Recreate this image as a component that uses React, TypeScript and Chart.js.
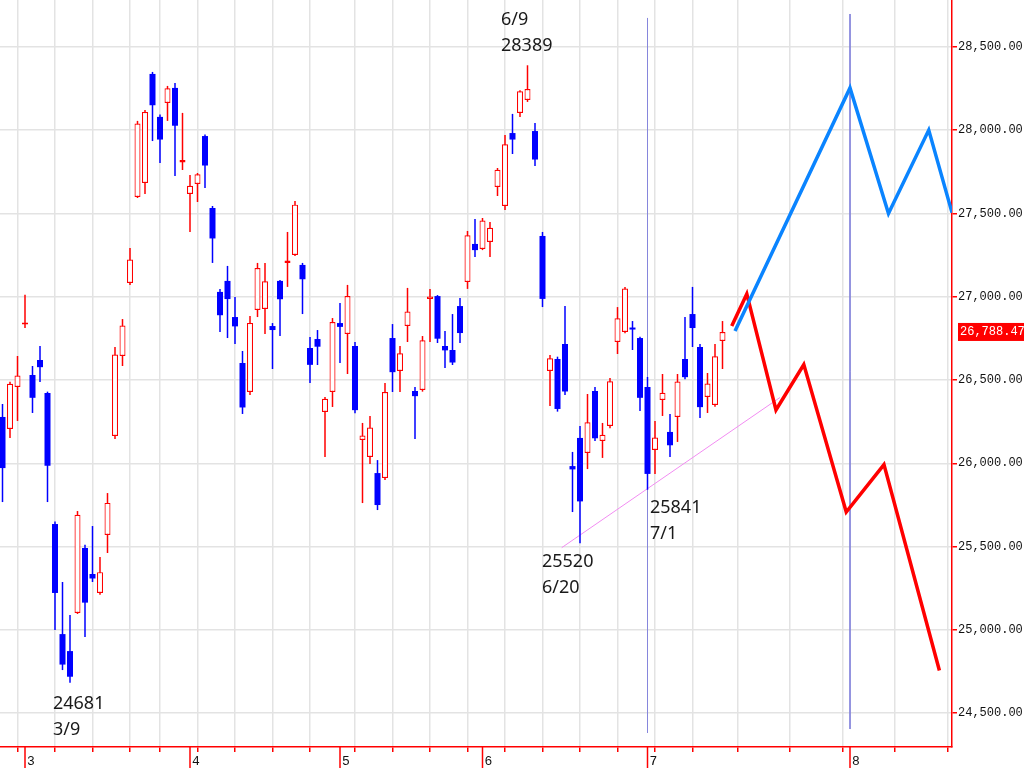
import React, { useEffect, useRef } from "react";
import { Chart, registerables } from "chart.js";

Chart.register(...registerables);

// ---- Trading days (Nikkei 225 daily candles) ----
const dates = [
  "2022-02-24", "2022-02-25", "2022-02-28",
  "2022-03-01", "2022-03-02", "2022-03-03", "2022-03-04", "2022-03-07", "2022-03-08", "2022-03-09", "2022-03-10", "2022-03-11",
  "2022-03-14", "2022-03-15", "2022-03-16", "2022-03-17", "2022-03-18", "2022-03-22", "2022-03-23", "2022-03-24", "2022-03-25",
  "2022-03-28", "2022-03-29", "2022-03-30", "2022-03-31",
  "2022-04-01", "2022-04-04", "2022-04-05", "2022-04-06", "2022-04-07", "2022-04-08", "2022-04-11", "2022-04-12", "2022-04-13",
  "2022-04-14", "2022-04-15", "2022-04-18", "2022-04-19", "2022-04-20", "2022-04-21", "2022-04-22", "2022-04-25", "2022-04-26",
  "2022-04-27", "2022-04-28",
  "2022-05-02", "2022-05-06", "2022-05-09", "2022-05-10", "2022-05-11", "2022-05-12", "2022-05-13", "2022-05-16", "2022-05-17",
  "2022-05-18", "2022-05-19", "2022-05-20", "2022-05-23", "2022-05-24", "2022-05-25", "2022-05-26", "2022-05-27", "2022-05-30",
  "2022-05-31",
  "2022-06-01", "2022-06-02", "2022-06-03", "2022-06-06", "2022-06-07", "2022-06-08", "2022-06-09", "2022-06-10", "2022-06-13",
  "2022-06-14", "2022-06-15", "2022-06-16", "2022-06-17", "2022-06-20", "2022-06-21", "2022-06-22", "2022-06-23", "2022-06-24",
  "2022-06-27", "2022-06-28", "2022-06-29", "2022-06-30",
  "2022-07-01", "2022-07-04", "2022-07-05", "2022-07-06", "2022-07-07", "2022-07-08", "2022-07-11", "2022-07-12", "2022-07-13",
  "2022-07-14", "2022-07-15",
];

const opens = [
  26278, 26206, 26458,
  26833, 26530, 26620, 26422, 25635, 24974, 24872, 25101, 25491,
  25335, 25221, 25569, 26164, 26644, 27083, 27599, 27683, 28338,
  28080, 28164, 28254, 27806,
  27617, 27677, 27965, 27533, 27029, 27095, 26878, 26602, 26428,
  26920, 26926, 26824, 27095, 27203, 27251, 27191, 26692, 26746,
  26308, 26428,
  26842, 26776, 26704, 26140, 26038, 25941, 25911, 26752, 26554,
  26824, 26434, 26440, 26986, 27004, 26704, 26680, 26944, 27089,
  27317,
  27287, 27329, 27659, 27545, 27983, 28104, 28182, 27995, 27365,
  26554, 26626, 26716, 25983, 26152, 26062, 26434, 26134, 26224,
  26728, 26788, 26815, 26752,
  26458, 26080, 26380, 26188, 26278, 26626, 26896, 26698, 26398,
  26350, 26734,
];

const highs = [
  26356, 26490, 26644,
  27012, 26584, 26704, 26430, 25650, 25287, 25088, 25713, 25510,
  25623, 25437, 25821, 26698, 26866, 27293, 28056, 28122, 28350,
  28095, 28266, 28284, 28104,
  27731, 27743, 27975, 27545, 27047, 27185, 26998, 26674, 26884,
  27203, 27203, 26842, 27100, 27389, 27575, 27203, 26758, 26800,
  26398, 26872,
  26962, 27071, 26728, 26242, 26284, 26019, 26482, 26836, 26704,
  27053, 26458, 26764, 27047, 27010, 26794, 26896, 26992, 27395,
  27467,
  27473, 27449, 27773, 27971, 28098, 28240, 28390, 28044, 27389,
  26650, 26640, 26944, 26068, 26224, 26416, 26458, 26242, 26512,
  26938, 27059, 26854, 26760,
  26518, 26254, 26536, 26296, 26536, 26878, 27059, 26716, 26542,
  26716, 26854,
];

const lows = [
  25767, 26152, 26254,
  26812, 26302, 26488, 25767, 24998, 24758, 24682, 25095, 24956,
  25287, 25210, 25461, 26146, 26584, 27071, 27593, 27617, 27935,
  27803, 28056, 27725, 27761,
  27389, 27569, 27653, 27203, 26788, 26752, 26716, 26296, 26410,
  26878, 26776, 26566, 26764, 27059, 27245, 26896, 26482, 26590,
  26038, 26338,
  26602, 26536, 26300, 25761, 25996, 25719, 25899, 26428, 26428,
  26728, 26146, 26430, 26728, 26722, 26572, 26590, 26722, 27047,
  27239,
  27280, 27239, 27605, 27521, 27857, 28080, 28170, 27785, 26938,
  26344, 26310, 26410, 25707, 25520, 25965, 26134, 26032, 26210,
  26656, 26780, 26680, 26314,
  25841, 25935, 26284, 26038, 26128, 26505, 26698, 26272, 26302,
  26340, 26566,
];

const closes = [
  25971, 26477, 26527,
  26845, 26393, 26577, 25985, 25221, 24791, 24718, 25690, 25163,
  25308, 25346, 25762, 26653, 26827, 27224, 28040, 28110, 28150,
  27944, 28252, 28027, 27821,
  27666, 27736, 27788, 27350, 26889, 26986, 26822, 26335, 26843,
  27172, 27093, 26800, 26985, 27218, 27553, 27105, 26591, 26700,
  26387, 26848,
  26819, 27004, 26319, 26167, 26214, 25749, 26428, 26547, 26660,
  26911, 26403, 26739, 27002, 26748, 26678, 26605, 26782, 27369,
  27280,
  27458, 27414, 27762, 27916, 27944, 28234, 28247, 27824, 26987,
  26630, 26326, 26431, 25963, 25771, 26246, 26150, 26171, 26492,
  26871, 27049, 26803, 26393,
  25936, 26154, 26423, 26108, 26491, 26517, 26812, 26337, 26479,
  26643, 26788.47,
];

// ---- Price axis ticks ----
const yTicks = [24500, 25000, 25500, 26000, 26500, 27000, 27500, 28000, 28500];

// ---- Hand-drawn projection paths (days after the last candle, price) ----
const redPathDays = [1.23, 3.24, 7.13, 10.84, 16.5, 21.53, 28.92];
const redPathValues = [26824, 27017, 26320, 26593, 25707, 25992, 24755];
const bluePathDays = [1.67, 17, 22.13, 27.5, 30.6];
const bluePathValues = [26794, 28254, 27500, 28001, 27505];

// ---- Support trendline (x in candle index units, price) ----
const trendX = [74.56, 103.67];
const trendValues = [25493, 26395];

// ---- Vertical marker lines (x in candle index units) ----
const markerX = [86, 113];
const markerTop = [28674, 28698];
const markerBottom = [24380, 24404];

// ---- Text annotations ----
const annLine1 = ["6/9", "24681", "25520", "25841"];
const annLine2 = ["28389", "3/9", "6/20", "7/1"];
const annX = [66.47, 6.73, 71.93, 86.33];
const annValue = [28662, 24554, 25407, 25731];

const RED = "#ff0000";
const BLUE = "#0000ff";
const GRID = "#e3e3e3";
const MONO = '"Liberation Mono", "DejaVu Sans Mono", monospace';

const X_MIN = -1 / 3;
const X_MAX = 126.6;
const Y_MIN = 24296;
const Y_MAX = 28782;

export default function App() {
  const ref = useRef<HTMLCanvasElement | null>(null);

  useEffect(() => {
    if (!ref.current) return;
    const n = dates.length;
    const lastIdx = n - 1;
    const up = closes.map((c, i) => c >= opens[i]);
    const toDate = (s: string) => new Date(s + "T00:00:00Z");

    const weekTicks: number[] = [];
    const monthTicks: { x: number; label: string }[] = [];
    for (let i = 1; i < n; i++) {
      const d = toDate(dates[i]);
      const p = toDate(dates[i - 1]);
      const gap = (d.getTime() - p.getTime()) / 86400000;
      const newMonth = d.getUTCMonth() !== p.getUTCMonth();
      const newWeek = d.getUTCDay() <= p.getUTCDay() || gap >= 7;
      if (newMonth) monthTicks.push({ x: i, label: String(d.getUTCMonth() + 1) });
      else if (newWeek) weekTicks.push(i);
    }
    const last = toDate(dates[lastIdx]);
    for (let k = 1; lastIdx + k <= X_MAX; k++) {
      const d = new Date(last.getTime() + k * 86400000);
      if (d.getUTCDate() === 1) monthTicks.push({ x: lastIdx + k, label: String(d.getUTCMonth() + 1) });
      else if (d.getUTCDay() === 0) weekTicks.push(lastIdx + k);
    }
    const visibleWeekTicks = weekTicks.filter((v) => v >= X_MIN && v <= X_MAX);

    const bodyData = dates.map((_, i) => ({ x: i, y: [opens[i], closes[i]] }));
    const wickData = dates.map((_, i) => ({ x: i, y: [lows[i], highs[i]] }));

    const overlay = {
      id: "overlay",
      afterDraw(chart: any) {
        const ctx = chart.ctx;
        const xs = chart.scales.x;
        const ys = chart.scales.y;
        const area = chart.chartArea;
        ctx.save();
        // month ticks + labels
        ctx.strokeStyle = RED;
        ctx.lineWidth = 1.5;
        ctx.fillStyle = "#111";
        ctx.font = "13px " + MONO;
        ctx.textAlign = "left";
        ctx.textBaseline = "top";
        monthTicks.forEach((m) => {
          const px = xs.getPixelForValue(m.x);
          if (px < area.left - 1 || px > area.right + 1) return;
          ctx.beginPath();
          ctx.moveTo(px, area.bottom);
          ctx.lineTo(px, chart.height);
          ctx.stroke();
          ctx.fillText(m.label, px + 2, area.bottom + 8);
        });
        // annotations
        ctx.fillStyle = "#1a1a1a";
        ctx.font = '18px "Noto Sans", sans-serif';
        ctx.textBaseline = "middle";
        annLine1.forEach((t, i) => {
          const px = xs.getPixelForValue(annX[i]);
          const py = ys.getPixelForValue(annValue[i]);
          ctx.fillText(t, px, py);
          ctx.fillText(annLine2[i], px, py + 26);
        });
        // last price label
        const lastClose = closes[lastIdx];
        const py = ys.getPixelForValue(lastClose);
        const bx = area.right + 6;
        ctx.fillStyle = RED;
        ctx.fillRect(bx, py - 9, chart.width - bx, 18);
        ctx.fillStyle = "#ffffff";
        ctx.font = "12px " + MONO;
        ctx.fillText(
          lastClose.toLocaleString("en-US", { minimumFractionDigits: 2, maximumFractionDigits: 2 }),
          bx + 2,
          py
        );
        ctx.restore();
      },
    };

    const chart = new Chart(ref.current, {
      type: "bar",
      data: {
        datasets: [
          {
            type: "bar",
            label: "body",
            data: bodyData as any,
            backgroundColor: up.map((u) => (u ? "#ffffff" : BLUE)),
            borderColor: up.map((u) => (u ? RED : BLUE)),
            borderWidth: up.map((u) => (u ? 1.2 : 0)),
            borderSkipped: false,
            barThickness: 6,
            grouped: false,
            inflateAmount: 0,
            order: 0,
          } as any,
          {
            type: "bar",
            label: "wick",
            data: wickData as any,
            backgroundColor: up.map((u) => (u ? RED : BLUE)),
            borderWidth: 0,
            barThickness: 1.5,
            grouped: false,
            inflateAmount: 0,
            order: 1,
          } as any,
          {
            type: "line",
            label: "trend",
            data: trendX.map((x, i) => ({ x, y: trendValues[i] })),
            borderColor: "#f28cf2",
            borderWidth: 1,
            pointRadius: 0,
            order: 3,
          } as any,
          ...markerX.map(
            (x, i) =>
              ({
                type: "line",
                label: "marker" + i,
                data: [
                  { x, y: markerTop[i] },
                  { x, y: markerBottom[i] },
                ],
                borderColor: "#8686dc",
                borderWidth: 1,
                pointRadius: 0,
                order: 3,
              } as any)
          ),
          {
            type: "line",
            label: "blue path",
            data: bluePathDays.map((d, i) => ({ x: lastIdx + d, y: bluePathValues[i] })),
            borderColor: "#0a84ff",
            borderWidth: 3.5,
            pointRadius: 0,
            order: 2,
          } as any,
          {
            type: "line",
            label: "red path",
            data: redPathDays.map((d, i) => ({ x: lastIdx + d, y: redPathValues[i] })),
            borderColor: RED,
            borderWidth: 3.5,
            pointRadius: 0,
            order: 2,
          } as any,
        ],
      },
      options: {
        responsive: false,
        animation: false,
        devicePixelRatio: 1,
        layout: { padding: 0 },
        plugins: {
          legend: { display: false },
          tooltip: { enabled: false },
          title: { display: false },
        },
        scales: {
          x: {
            type: "linear",
            position: "bottom",
            min: X_MIN,
            max: X_MAX,
            offset: false,
            grid: {
              offset: false,
              color: GRID,
              lineWidth: 1.5,
              tickColor: RED,
              tickLength: 5,
              tickWidth: 1.5,
              drawTicks: true,
            },
            border: { color: RED, width: 1.5 },
            ticks: { display: false },
            afterBuildTicks: (s: any) => {
              s.ticks = visibleWeekTicks.map((v) => ({ value: v }));
            },
            afterFit: (s: any) => {
              s.height = 21;
              s.paddingLeft = 0;
              s.paddingRight = 0;
              s.paddingTop = 0;
              s.paddingBottom = 0;
            },
          },
          y: {
            type: "linear",
            position: "right",
            min: Y_MIN,
            max: Y_MAX,
            grid: {
              color: GRID,
              lineWidth: 1.5,
              tickColor: RED,
              tickLength: 5,
              tickWidth: 1.5,
              drawTicks: true,
            },
            border: { color: RED, width: 1.5 },
            ticks: {
              color: "#111",
              padding: 1,
              font: { family: MONO, size: 12 },
              callback: (v: any) =>
                Number(v).toLocaleString("en-US", { minimumFractionDigits: 2, maximumFractionDigits: 2 }),
            },
            afterBuildTicks: (s: any) => {
              s.ticks = yTicks.map((v) => ({ value: v }));
            },
            afterFit: (s: any) => {
              s.width = 72;
              s.paddingTop = 0;
              s.paddingBottom = 0;
              s.paddingLeft = 0;
              s.paddingRight = 0;
            },
          },
        },
      } as any,
      plugins: [overlay],
    });

    return () => chart.destroy();
  }, []);

  return (
    <div style={{ position: "fixed", left: 0, top: 0, width: 1024, height: 768, background: "#fff" }}>
      <canvas ref={ref} width={1024} height={768} style={{ display: "block" }} />
    </div>
  );
}
